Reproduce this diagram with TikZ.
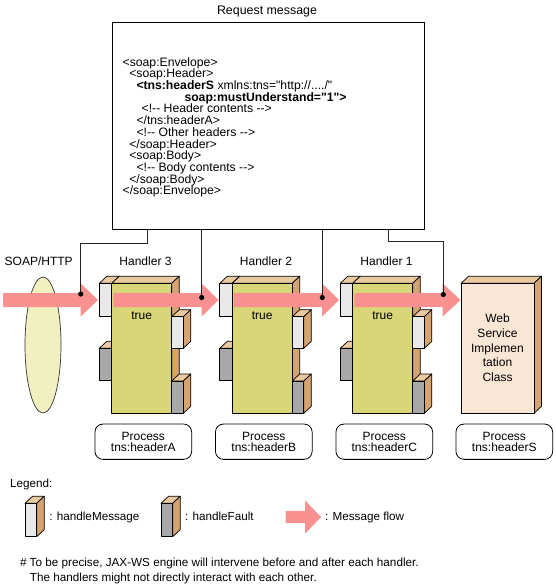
\documentclass[tikz,border=0pt]{standalone}
\usepackage{fontspec}
\setmainfont{Liberation Sans}
\newfontfamily\arialf{Liberation Sans}
\usetikzlibrary{shapes.geometric}
\definecolor{flowpink}{RGB}{250,145,145}
\definecolor{bodyg}{RGB}{216,214,120}
\definecolor{tanside}{RGB}{214,164,112}
\definecolor{tantop}{RGB}{234,200,160}
\definecolor{wboxf}{RGB}{232,232,232}
\definecolor{gboxf}{RGB}{168,168,168}
\definecolor{ellf}{RGB}{240,240,192}
\definecolor{wsf}{RGB}{250,230,212}
\newcommand{\cubx}[5]{%
  \filldraw[cubeedge,fill=tantop] (#1,#2) -- (#1+7.5,#2-7) -- (#3+7.5,#2-7) -- (#3,#2) -- cycle;
  \filldraw[cubeedge,fill=tanside] (#3,#2) -- (#3+7.5,#2-7) -- (#3+7.5,#4-7) -- (#3,#4) -- cycle;
  \filldraw[cubeedge,fill=#5] (#1,#2) rectangle (#3,#4);}
\newcommand{\flowarrow}[5]{%
  \fill[flowpink] (#1,#4-#5) -- (#2,#4-#5) -- (#2,#4-16.7) -- (#3,#4) -- (#2,#4+16.7) -- (#2,#4+#5) -- (#1,#4+#5) -- cycle;}
\begin{document}
\begin{tikzpicture}[x=1pt,y=-1pt,
  every node/.style={font=\arialf\fontsize{12}{14}\selectfont, inner sep=0pt, outer sep=0pt},
  cubeedge/.style={draw=black, line width=0.7pt, line join=round},
  reqbox/.style={draw=black, line width=0.8pt, minimum width=311.6pt, minimum height=207pt, anchor=north west},
  procbox/.style={draw=black, line width=0.8pt, rounded corners=8pt, minimum width=96.7pt, minimum height=35.3pt, align=center, font=\arialf\fontsize{12}{10.8}\selectfont},
  xml/.style={anchor=base west, font=\arialf\fontsize{12.2}{11.7}\selectfont},
  smalltext/.style={anchor=base west, font=\arialf\fontsize{11.7}{14}\selectfont},
  conn/.style={draw=black!85, line width=0.8pt},
  dotc/.style={fill=black}]
\useasboundingbox (0,0) rectangle (556,587);
% request message
\node[font=\arialf\fontsize{12.4}{14}\selectfont] (rqt) at (267,12) {Request message};
\node[reqbox] (req) at (112.7,22.3) {};
\node[xml] (t1) at (122.7,66.1) {<soap:Envelope>};
\node[xml] (t2) at (129.3,77.8) {<soap:Header>};
\node[xml] (t3) at (136.5,89.5) {\textbf{<tns:headerS} xmlns:tns="http://..../"};
\node[xml] (t4) at (184.5,101.2) {\textbf{soap:mustUnderstand="1">}};
\node[xml] (t5) at (141.7,112.9) {<!-- Header contents -->};
\node[xml] (t6) at (136.5,124.6) {</tns:headerA>};
\node[xml] (t7) at (136.5,136.3) {<!-- Other headers -->};
\node[xml] (t8) at (129.3,148) {</soap:Header>};
\node[xml] (t9) at (129.3,159.7) {<soap:Body>};
\node[xml] (t10) at (136.5,171.4) {<!-- Body contents -->};
\node[xml] (t11) at (129.3,183.1) {</soap:Body>};
\node[xml] (t12) at (122.7,194.8) {</soap:Envelope>};
% SOAP/HTTP
\node (soap) at (38.7,261.5) {SOAP/HTTP};
\node[ellipse, draw=black!80, line width=0.7pt, fill=ellf, minimum width=36pt, minimum height=136pt] (ell) at (43,345) {};
% handlers
\foreach \o/\hn/\hd in {0/3/A, 120.5/2/B, 241/1/C} {
  \cubx{99.3+\o}{283.3}{111.7+\o}{316}{wboxf}
  \cubx{99.3+\o}{348.3}{111.7+\o}{380.7}{gboxf}
  \cubx{111.7+\o}{283.3}{171.7+\o}{413.3}{bodyg}
  \cubx{171.7+\o}{316.7}{183.3+\o}{348.3}{wboxf}
  \cubx{171.7+\o}{381}{183.3+\o}{413.3}{gboxf}
  \node (hl\hn) at (145.5+\o,261.5) {Handler \hn};
  \node (tr\hn) at (141.7+\o,315.5) {true};
  \node[procbox] (p\hn) at (143.3+\o,441.7) {Process\\tns:header\hd};
}
% web service implementation class
\cubx{461}{283.3}{534}{413.3}{wsf}
\node[align=center, font=\arialf\fontsize{12}{14.7}\selectfont] (ws) at (497.5,348) {Web\\Service\\Implemen\\tation\\Class};
\node[procbox] (pS) at (504.3,441.7) {Process\\tns:headerS};
% message flow arrows
\flowarrow{3}{80.5}{98}{300}{7}
\flowarrow{113.3}{201.5}{218.5}{300}{7}
\flowarrow{233.8}{322}{339}{300}{7}
\flowarrow{354.3}{442.5}{460.5}{300}{7}
% connectors from the request message
\coordinate (d1) at (80.7,294);
\coordinate (d2) at (201.7,297.5);
\coordinate (d3) at (322.3,297.5);
\coordinate (d4) at (443.3,294.5);
\coordinate (j1) at (147.7,243.3);
\coordinate (j4) at (388.3,241.3);
\draw[conn] (d1) |- (j1) -- (j1 |- req.south);
\draw[conn] (d2) -- (d2 |- req.south);
\draw[conn] (d3) -- (d3 |- req.south);
\draw[conn] (d4) |- (j4) -- (j4 |- req.south);
\foreach \d in {d1,d2,d3,d4} \fill[dotc] (\d) circle (2.6);
% legend
\node[smalltext] (lg) at (10,487.5) {Legend:};
\cubx{25}{503.3}{36.7}{536.7}{wboxf}
\node[smalltext] (lgm) at (49.3,520.9) {: handleMessage};
\cubx{161}{503.3}{172.7}{536.7}{gboxf}
\node[smalltext] (lgf) at (185,520.9) {: handleFault};
\flowarrow{285.7}{305}{321}{517}{6.2}
\node[smalltext] (lga) at (325,520.9) {: Message flow};
% footnote
\node[smalltext] (fn1) at (20,566) {\# To be precise, JAX-WS engine will intervene before and after each handler.};
\node[smalltext] (fn2) at (30,581) {The handlers might not directly interact with each other.};
\end{tikzpicture}
\end{document}
